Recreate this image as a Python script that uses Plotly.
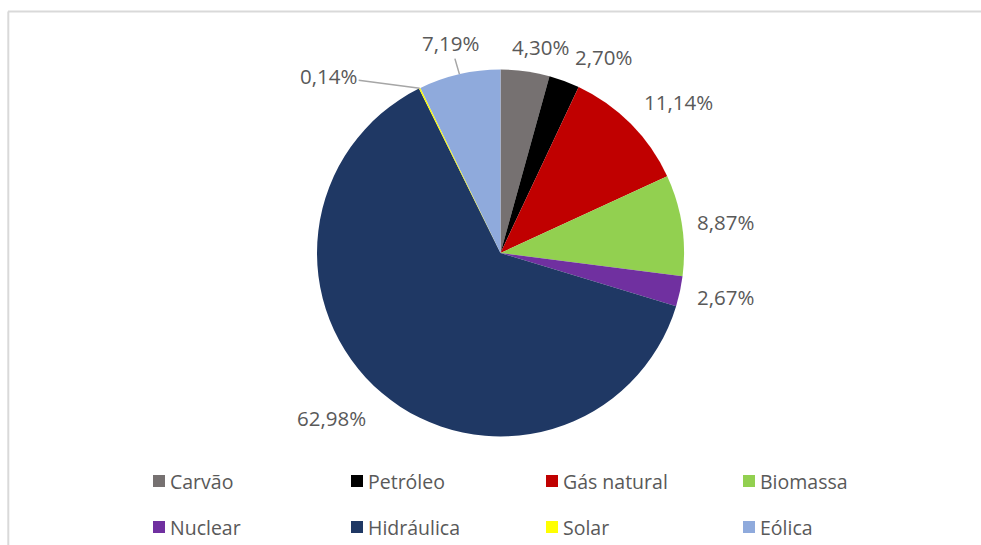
import math
import plotly.graph_objects as go

# Matriz elétrica: participação de cada fonte (%)
fontes = ["Carvão", "Petróleo", "Gás natural", "Biomassa",
          "Nuclear", "Hidráulica", "Solar", "Eólica"]
participacao = [4.30, 2.70, 11.14, 8.87, 2.67, 62.98, 0.14, 7.19]
cores = ["#767171", "#000000", "#C00000", "#92D050",
         "#7030A0", "#1F3864", "#FFFF00", "#8FAADC"]

W, H = 981, 545
CX, CY, R = 500.5, 253.0, 183.5          # pie centre / radius in pixels
TXT = "#595959"
FONT = "Open Sans, Noto Sans, sans-serif"

# label placement relative to the slice's outer mid-point (pixels, y down)
label_offsets = [(15, -24), (39, -24), (48, -22), (44, -3),
                 (46, 6), (-50, 25), (-91, -12), (-9, -31)]
with_leader = [False, False, False, False, False, False, True, True]

# legend layout
legend_cols = [153, 351, 546, 743]
legend_rows = [481, 527]
SQ = 12


def px(x):
    return x / W


def py(y):
    return 1 - y / H


fig = go.Figure(go.Pie(
    labels=fontes,
    values=participacao,
    marker=dict(colors=cores, line=dict(width=0)),
    sort=False,
    direction="clockwise",
    rotation=0,
    textinfo="none",
    hoverinfo="label+percent",
    showlegend=False,
    domain=dict(x=[px(CX - R), px(CX + R)], y=[py(CY + R), py(CY - R)]),
))

annotations = []
total = sum(participacao)
acc = 0.0
for i, v in enumerate(participacao):
    mid = (acc + v / 2) / total * 2 * math.pi
    acc += v
    ax_, ay_ = CX + R * math.sin(mid), CY - R * math.cos(mid)
    texto = f"{v:.2f}".replace(".", ",") + "%"
    dx, dy = label_offsets[i]
    if with_leader[i]:
        annotations.append(dict(
            x=px(ax_), y=py(ay_), xref="paper", yref="paper",
            text=texto, showarrow=True, arrowhead=0, arrowwidth=1.5,
            arrowcolor="#A6A6A6", standoff=0, ax=dx, ay=dy,
            font=dict(family=FONT, size=20.5, color=TXT)))
    else:
        annotations.append(dict(
            x=px(ax_ + dx), y=py(ay_ + dy), xref="paper", yref="paper",
            text=texto, showarrow=False, xanchor="center", yanchor="middle",
            font=dict(family=FONT, size=20.5, color=TXT)))

shapes = [
    # chart-area frame (top and left edges)
    dict(type="line", xref="paper", yref="paper", x0=px(8), x1=px(W + 2),
         y0=py(11.5), y1=py(11.5), line=dict(color="#D9D9D9", width=2)),
    dict(type="line", xref="paper", yref="paper", x0=px(8.3), x1=px(8.3),
         y0=py(11.5), y1=py(H + 2), line=dict(color="#D9D9D9", width=2)),
]

# legend: 4 columns x 2 rows
for i, (nome, cor) in enumerate(zip(fontes, cores)):
    cx = legend_cols[i % 4]
    cy = legend_rows[i // 4]
    shapes.append(dict(type="rect", xref="paper", yref="paper",
                       x0=px(cx), x1=px(cx + SQ),
                       y0=py(cy + SQ / 2), y1=py(cy - SQ / 2),
                       fillcolor=cor, line=dict(width=0)))
    annotations.append(dict(
        x=px(cx + SQ + 3), y=py(cy), xref="paper", yref="paper",
        text=nome, showarrow=False, xanchor="left", yanchor="middle",
        font=dict(family=FONT, size=19.5, color=TXT)))

fig.update_layout(
    width=W, height=H,
    margin=dict(l=0, r=0, t=0, b=0),
    paper_bgcolor="white", plot_bgcolor="white",
    showlegend=False,
    annotations=annotations,
    shapes=shapes,
)

fig.write_html("out.html")
